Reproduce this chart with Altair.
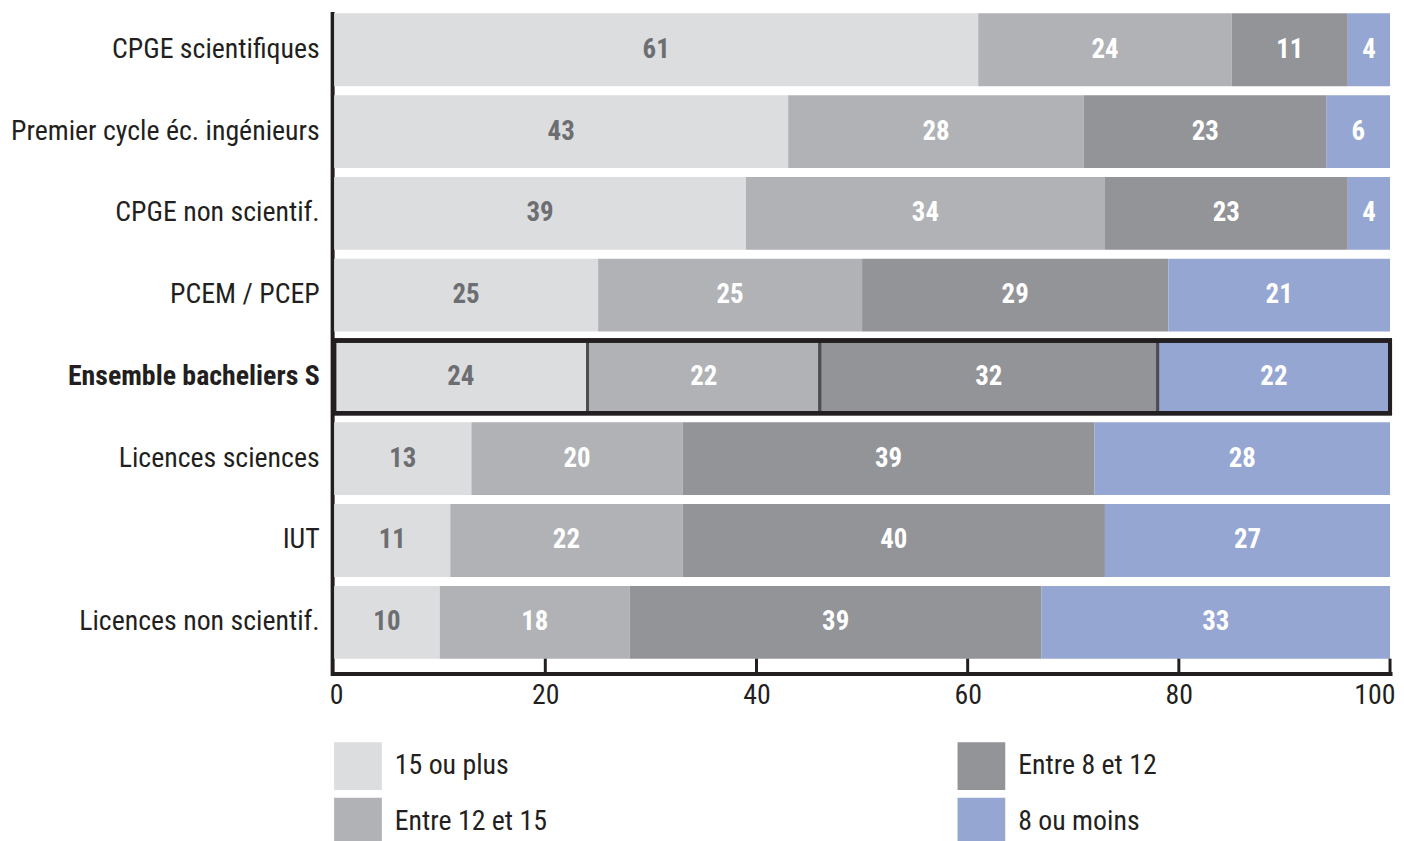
import altair as alt
import pandas as pd

categories = [
    "CPGE scientifiques",
    "Premier cycle éc. ingénieurs",
    "CPGE non scientif.",
    "PCEM / PCEP",
    "Ensemble bacheliers S",
    "Licences sciences",
    "IUT",
    "Licences non scientif.",
]
groups = ["15 ou plus", "Entre 12 et 15", "Entre 8 et 12", "8 ou moins"]
v_15_plus = [61, 43, 39, 25, 24, 13, 11, 10]
v_12_15 = [24, 28, 34, 25, 22, 20, 22, 18]
v_8_12 = [11, 23, 23, 29, 32, 39, 40, 39]
v_8_moins = [4, 6, 4, 21, 22, 28, 27, 33]
x_ticks = [0, 20, 40, 60, 80, 100]
colors = ["#dcdddf", "#b1b2b6", "#939498", "#96a6d3"]
highlight = "Ensemble bacheliers S"

series = [v_15_plus, v_12_15, v_8_12, v_8_moins]
rows = []
for gi, (g, vals) in enumerate(zip(groups, series)):
    for c, v in zip(categories, vals):
        rows.append({"cat": c, "groupe": g, "ordre": gi, "valeur": v})
df = pd.DataFrame(rows)

FONT = "Roboto Condensed, Liberation Sans Narrow, DejaVu Sans Condensed, sans-serif"
W, H = 1062, 664

y_enc = alt.Y(
    "cat:N",
    sort=categories,
    scale=alt.Scale(paddingInner=0.11, paddingOuter=0.091, align=0),
    axis=alt.Axis(
        title=None,
        ticks=False,
        domain=True,
        domainColor="#231f20",
        domainWidth=4,
        offset=2,
        labelFont=FONT,
        labelFontSize=28,
        labelColor="#231f20",
        labelPadding=13,
        labelFontWeight=alt.expr(f"datum.value == '{highlight}' ? 'bold' : 'normal'"),
        labelLimit=400,
    ),
)

x_scale = alt.Scale(domain=[0, 100], nice=False, zero=True)

base = alt.Chart(df).transform_stack(
    stack="valeur",
    groupby=["cat"],
    as_=["x0", "x1"],
    sort=[alt.SortField("ordre", order="ascending")],
).transform_calculate(mid="(datum.x0 + datum.x1) / 2")

bars = base.mark_bar(stroke="#4d4d4f").encode(
    x=alt.X(
        "x0:Q",
        scale=x_scale,
        axis=alt.Axis(
            title=None,
            values=x_ticks,
            ticks=False,
            grid=False,
            domainColor="#231f20",
            domainWidth=4,
            labelFont=FONT,
            labelFontSize=28,
            labelColor="#231f20",
            labelPadding=8,
            labelFlush=True,
            labelFlushOffset=5,
        ),
    ),
    x2="x1:Q",
    y=y_enc,
    color=alt.Color(
        "groupe:N",
        scale=alt.Scale(domain=groups, range=colors),
        legend=alt.Legend(
            title=None,
            orient="none",
            legendX=0,
            legendY=733,
            columns=2,
            symbolType="square",
            symbolSize=2304,
            symbolStrokeWidth=0,
            symbolOpacity=1,
            labelFont=FONT,
            labelFontSize=28,
            labelColor="#231f20",
            labelOffset=13,
            rowPadding=8,
            columnPadding=412,
            labelLimit=300,
        ),
    ),
    strokeWidth=alt.condition(f"datum.cat == '{highlight}'", alt.value(3), alt.value(0)),
)

labels = base.mark_text(font=FONT, fontSize=27, fontWeight="bold").encode(
    x=alt.X("mid:Q", scale=x_scale),
    y=alt.Y("cat:N", sort=categories),
    text=alt.Text("valeur:Q"),
    color=alt.condition("datum.ordre == 0", alt.value("#6d6e71"), alt.value("#ffffff")),
)

box = alt.Chart(df).transform_filter(f"datum.cat == '{highlight}'").mark_bar(
    filled=False, stroke="#231f20", strokeWidth=4
).encode(
    x=alt.datum(0, scale=x_scale),
    x2=alt.datum(100),
    y=alt.Y("cat:N", sort=categories),
)

tick_df = pd.DataFrame({"t": x_ticks[1:]})
ticks = alt.Chart(tick_df).mark_rule(color="#231f20", strokeWidth=3).encode(
    x=alt.X("t:Q", scale=x_scale),
    y=alt.value(H - 15),
    y2=alt.value(H),
)

chart = (
    alt.layer(bars, labels, box, ticks)
    .properties(
        width=W,
        height=H,
        autosize=alt.AutoSizeParams(type="none"),
        padding={"left": 328, "top": 3, "right": 6, "bottom": 166},
    )
    .configure_view(stroke=None)
    .configure_axis(domainCap="square")
)

chart.save("out.html", embed_options={"renderer": "svg", "actions": False})
